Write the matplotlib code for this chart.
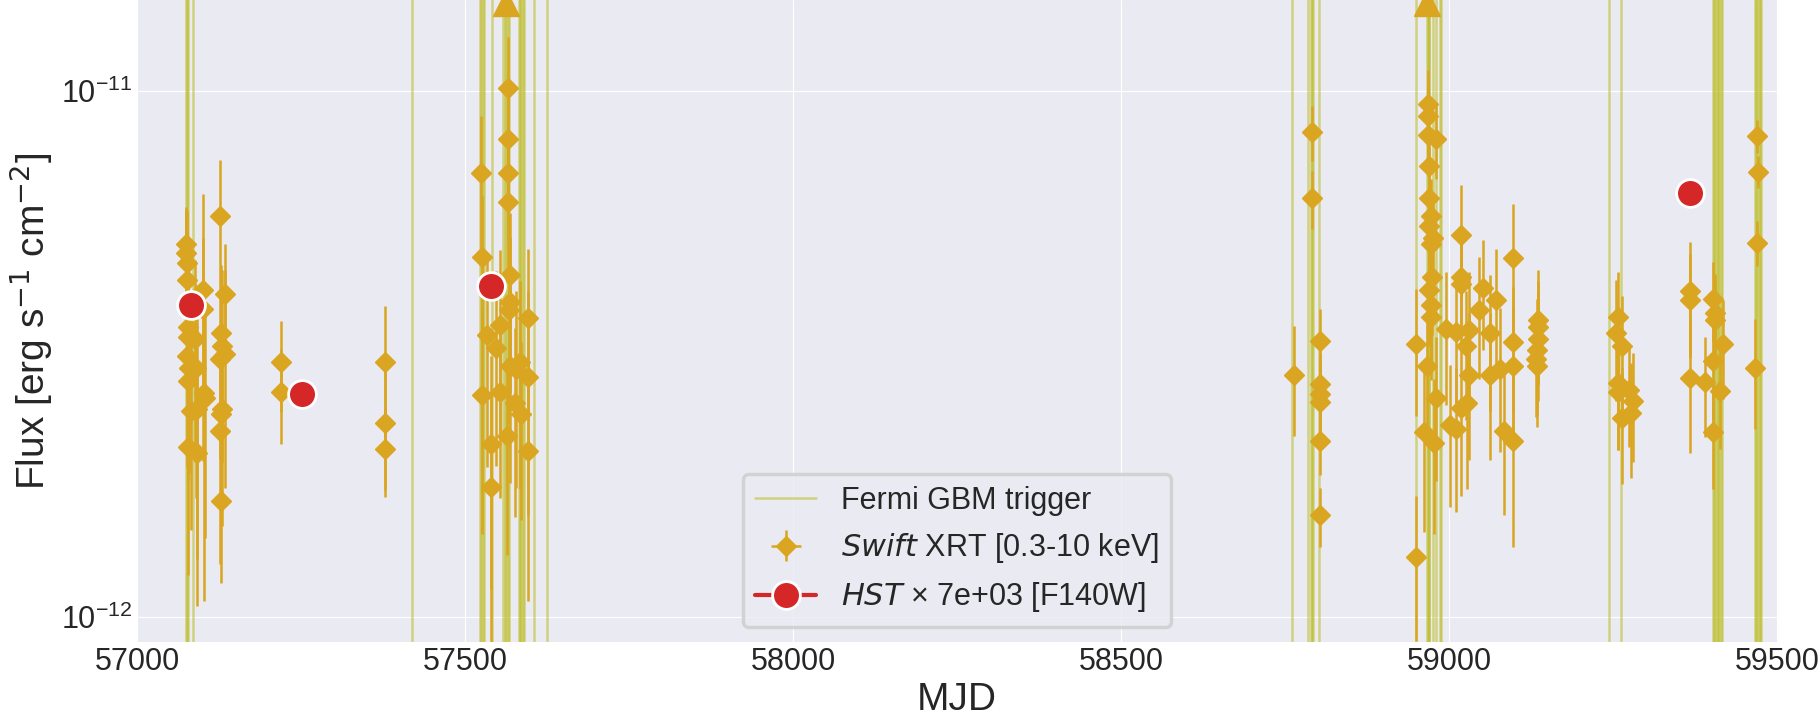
"""Swift XRT light curve with HST points and Fermi GBM triggers."""
import matplotlib
matplotlib.use("Agg")
import matplotlib.pyplot as plt

plt.style.use("seaborn-v0_8-darkgrid")
plt.rcParams["font.family"] = ["Liberation Sans", "DejaVu Sans"]

UNIT = 1e-12
HST_SCALE = 7000

# Fermi GBM trigger times (MJD)
gbm_mjd = [57075, 57076, 57077, 57085, 57419,
           57523, 57525, 57527, 57529, 57541, 57558, 57561, 57563, 57565, 57567,
           57582, 57584, 57586, 57588, 57590, 57605, 57625,
           58760, 58785, 58790, 58791, 58792, 58802,
           58949, 58966, 58968, 58969, 58970, 58975, 58980, 58986, 58988,
           59244, 59262,
           59402, 59404, 59406, 59408, 59410, 59412, 59414, 59416,
           59466, 59468, 59470, 59472, 59474, 59476]

# Swift XRT 0.3-10 keV flux, in units of 1e-12 erg/s/cm2
xrt_mjd = [57075, 57075, 57076, 57076, 57077, 57078, 57076, 57079, 57077, 57078,
           57082, 57089, 57090, 57091, 57092, 57101, 57100, 57102, 57103,
           57127, 57128, 57129, 57127, 57130, 57128, 57127, 57128, 57134, 57134,
           57220, 57220, 57378, 57378, 57378,
           57565, 57565, 57525, 57565, 57565, 57526, 57569, 57569, 57567, 57596,
           57553, 57533, 57548, 57568, 57584, 57578, 57596, 57526, 57553, 57576,
           57585, 57539, 57564, 57596, 57539,
           58764, 58791, 58791, 58803, 58803, 58803, 58803, 58803, 58803,
           58949, 58949, 58968, 58968, 58968, 58980, 58969, 58970, 58973, 58970,
           58975, 58973, 58974, 58970, 58973, 58973, 58967, 58980, 58962, 58977,
           59019, 59019, 59019, 59052, 59046, 59072, 59097, 58996, 59011, 59026,
           59031, 59062, 59097, 59031, 59062, 59077, 59097, 59019, 59011, 59001,
           59027, 59084, 59097, 59135, 59135, 59135, 59134, 59133, 59134,
           59257, 59255, 59263, 59257, 59257, 59275, 59280, 59263, 59278,
           59368, 59368, 59368, 59390, 59402, 59405, 59405, 59418, 59402, 59413, 59402,
           59469, 59471, 59469, 59466]
xrt_flux = [5.11, 4.93, 4.72, 4.37, 3.56, 3.40, 3.13, 2.98, 2.81, 2.10,
            2.46, 3.37, 2.98, 2.49, 2.05, 4.18, 3.85, 2.67, 2.61,
            5.79, 3.46, 3.27, 3.10, 2.49, 2.43, 2.26, 1.66, 4.11, 3.16,
            3.05, 2.68, 3.06, 2.34, 2.09,
            10.15, 8.12, 6.98, 6.98, 6.15, 4.83, 4.47, 3.97, 3.84, 3.71,
            3.59, 3.43, 3.24, 3.00, 3.05, 2.96, 2.86, 2.64, 2.68, 2.55,
            2.43, 2.13, 2.21, 2.07, 1.77,
            2.89, 8.35, 6.26, 3.35, 2.77, 2.65, 2.56, 2.16, 1.56,
            3.31, 1.30, 9.45, 8.97, 8.26, 8.09, 7.19, 6.26, 5.79, 5.54,
            5.26, 5.11, 4.43, 4.18, 3.92, 3.72, 3.00, 2.61, 2.25, 2.14,
            5.33, 4.43, 4.30, 4.22, 3.83, 4.01, 4.81, 3.53, 3.48, 3.27,
            3.52, 3.46, 3.34, 2.89, 2.89, 2.96, 3.00, 2.50, 2.28, 2.32,
            2.55, 2.26, 2.16, 3.67, 3.56, 3.37, 3.22, 3.10, 3.00,
            3.72, 3.47, 3.27, 2.78, 2.68, 2.70, 2.57, 2.39, 2.44,
            4.16, 4.01, 2.85, 2.80, 4.03, 3.79, 3.67, 3.30, 3.07, 2.69, 2.25,
            8.21, 7.03, 5.15, 2.98]
xrt_err = [0.9, 1.0, 1.2, 1.0, 1.1, 1.3, 1.2, 1.1, 1.0, 0.9,
           1.0, 1.4, 1.3, 1.2, 1.0, 2.2, 1.4, 1.6, 1.2,
           1.6, 1.2, 1.3, 1.1, 1.0, 0.9, 1.0, 0.5, 1.0, 1.4,
           0.6, 0.55, 0.85, 0.6, 0.4,
           2.5, 2.0, 2.0, 1.8, 1.6, 1.5, 1.4, 1.3, 1.5, 1.3,
           1.4, 1.5, 1.3, 1.2, 1.3, 1.2, 1.3, 1.2, 1.0, 1.0,
           0.9, 1.0, 0.9, 1.0, 0.9,
           0.68, 1.0, 0.8, 0.5, 0.4, 0.4, 0.3, 0.3, 0.2,
           0.9, 0.4, 1.5, 1.5, 1.3, 1.3, 1.2, 1.2, 1.0, 1.0,
           1.0, 1.0, 1.0, 0.9, 0.9, 0.9, 0.8, 0.8, 0.8, 0.7,
           1.3, 1.0, 1.0, 1.0, 1.0, 1.0, 1.3, 1.0, 1.0, 0.9,
           1.0, 1.0, 0.9, 0.9, 0.9, 0.9, 0.9, 0.8, 0.7, 0.7,
           0.8, 0.7, 0.8, 0.9, 0.8, 0.8, 0.8, 0.7, 0.7,
           0.8, 0.9, 0.8, 0.7, 0.6, 0.6, 0.6, 0.6, 0.6,
           1.0, 0.9, 0.8, 0.6, 0.7, 0.7, 0.7, 0.7, 0.7, 0.6, 0.5,
           0.6, 0.5, 0.5, 0.7]

# XRT points above the plotted range
xrt_up_mjd = [57562, 58966]
xrt_up_flux = [14.7, 14.7]

# HST F140W flux, already multiplied by HST_SCALE, units of 1e-12
hst_mjd = [57082, 57251, 57539, 59367]
hst_flux = [3.92, 2.65, 4.26, 6.40]

fig, ax = plt.subplots(figsize=(18.2, 7.12), dpi=100)
fig.subplots_adjust(left=137 / 1820, right=1777 / 1820, top=1.0, bottom=70 / 712)

for i, t in enumerate(gbm_mjd):
    line = ax.axvline(t, color="#bcbd22", alpha=0.55, lw=1.8, zorder=1)
    if i == 0:
        gbm_handle = line

xrt_handle = ax.errorbar(xrt_mjd, [f * UNIT for f in xrt_flux],
                         yerr=[e * UNIT for e in xrt_err], xerr=1,
                         fmt="D", color="#DAA520", ms=10, elinewidth=1.8,
                         zorder=2)
ax.plot(xrt_up_mjd, [f * UNIT for f in xrt_up_flux], "^", color="#DAA520",
        ms=19, zorder=2)

# one call per HST epoch, so the connecting line only shows in the legend
for i in range(len(hst_mjd)):
    pts, = ax.plot([hst_mjd[i]], [hst_flux[i] * UNIT], "o-", color="#d62728",
                   ms=20, mec="white", mew=2, lw=3, zorder=3)
    if i == 0:
        hst_handle = pts

ax.set_yscale("log")
ax.set_xlim(57000, 59500)
ax.set_ylim(8.96e-13, 1.49e-11)
ax.set_xlabel("MJD", fontsize=28)
ax.set_ylabel(r"Flux [erg s$^{-1}$ cm$^{-2}$]", fontsize=28)
ax.tick_params(labelsize=22)
ax.grid(which="minor", visible=False)

labels = ["Fermi GBM trigger",
          r"$\it{Swift}$ XRT [0.3-10 keV]",
          r"$\it{HST}$ × " + f"{HST_SCALE:.0e}" + " [F140W]"]
leg = ax.legend([gbm_handle, xrt_handle, hst_handle], labels,
                loc="lower center", fontsize=22, frameon=True, framealpha=0.8,
                facecolor="#EAEAF2", edgecolor="0.8")
leg.get_frame().set_linewidth(2.5)

fig.savefig("out.png", dpi=100)
